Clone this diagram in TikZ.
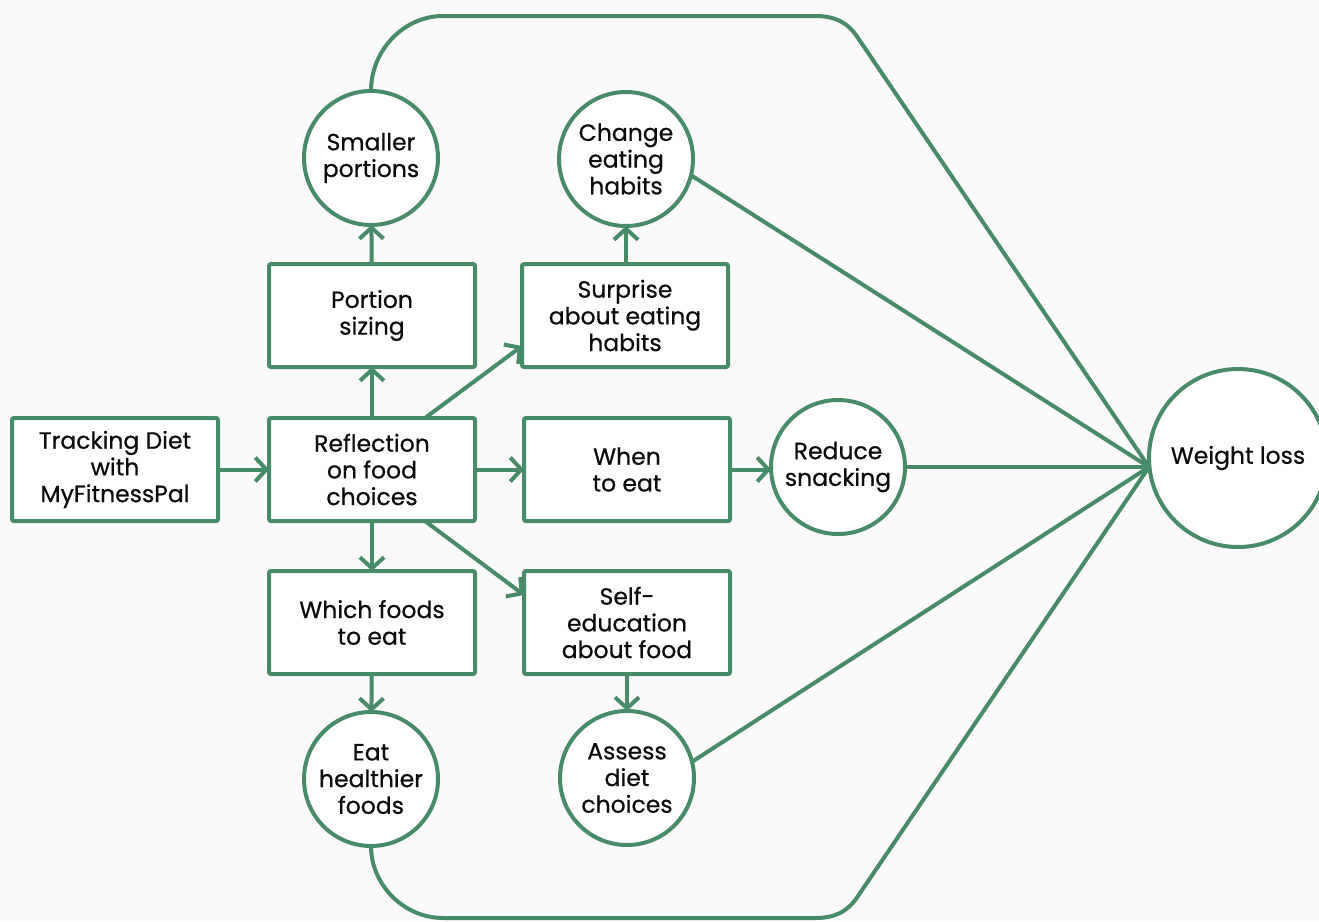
\documentclass[tikz,border=0pt]{standalone}
\usepackage{fontspec}
\setmainfont{Poppins}[FakeBold=0.6]
\usetikzlibrary{arrows.meta}
\definecolor{leaf}{RGB}{72,139,104}
\definecolor{paper}{RGB}{250,250,250}
\definecolor{ink}{RGB}{12,12,12}
\begin{document}
\begin{tikzpicture}[x=1pt,y=-1pt,
  every node/.style={font=\fontsize{23.5}{26.7}\selectfont, text=ink, align=center},
  stepbox/.style={draw=leaf, line width=4pt, fill=white, rounded corners=2pt,
    minimum width=206pt, minimum height=103pt, inner sep=2pt, outer sep=0pt},
  outcome/.style={draw=leaf, line width=4pt, fill=white, circle,
    minimum size=134pt, inner sep=0pt, outer sep=0pt},
  goal/.style={outcome, minimum size=178pt},
  flow/.style={draw=leaf, line width=4pt, -{Straight Barb[length=11pt,width=24pt,line width=4pt]}},
  link/.style={draw=leaf, line width=4pt, line join=round}]
  \fill[paper] (0,0) rectangle (1319,921);
  \useasboundingbox (0,0) rectangle (1319,921);

  % meeting point of all links on the weight-loss circle
  \coordinate (wlin) at (1149,467);

  % boxes
  \node[stepbox] (track) at (115,469.5) {Tracking Diet\\with\\MyFitnessPal};
  \node[stepbox] (refl)  at (372,469.5) {Reflection\\on food\\choices};
  \node[stepbox] (port)  at (372,315.5) {Portion\\sizing};
  \node[stepbox] (which) at (372,622.5) {Which foods\\to eat};
  \node[stepbox] (surp)  at (625,315.5) {Surprise\\about eating\\habits};
  \node[stepbox] (when)  at (627,469.5) {When\\to eat};
  \node[stepbox] (self)  at (627,622.5) {Self-\\education\\about food};

  % circles
  \node[outcome] (small) at (371,158) {Smaller\\portions};
  \node[outcome] (chg)   at (626,159) {Change\\eating\\habits};
  \node[outcome] (red)   at (838,467) {Reduce\\snacking};
  \node[outcome] (eat)   at (371,779) {Eat\\healthier\\foods};
  \node[outcome] (asd)   at (627,778) {Assess\\diet\\choices};
  \node[goal]    (wl)    at (1238,458) {Weight loss};

  % arrows between steps
  \draw[flow] (track) -- (refl);
  \draw[flow] (refl) -- (when);
  \draw[flow] (when.east) -- (red.west |- when.east);
  \draw[flow] (refl) -- (port);
  \draw[flow] (refl) -- (which);
  \draw[flow] ([xshift=-50pt]refl.north east) -- ([yshift=21pt]surp.south west);
  \draw[flow] ([xshift=-50pt]refl.south east) -- ([yshift=-24pt]self.north west);
  \draw[flow] (port) -- (small);
  \draw[flow] (surp.north -| chg) -- (chg);
  \draw[flow] (which) -- (eat);
  \draw[flow] (self) -- (asd);

  % links into weight loss
  \draw[link] (chg.-14) -- (wlin);
  \draw[link] (red.east) -- (wlin);
  \draw[link] (asd.14) -- (wlin);
  \draw[link] (small.north) .. controls (371,50) and (404,16) .. (443,16)
    -- (815,16) .. controls (833,16) and (847,21) .. (858,38) -- (wlin);
  \draw[link] (eat.south) .. controls (371,885) and (404,918) .. (443,918)
    -- (815,918) .. controls (833,918) and (847,913) .. (858,896) -- (wlin);
\end{tikzpicture}
\end{document}
